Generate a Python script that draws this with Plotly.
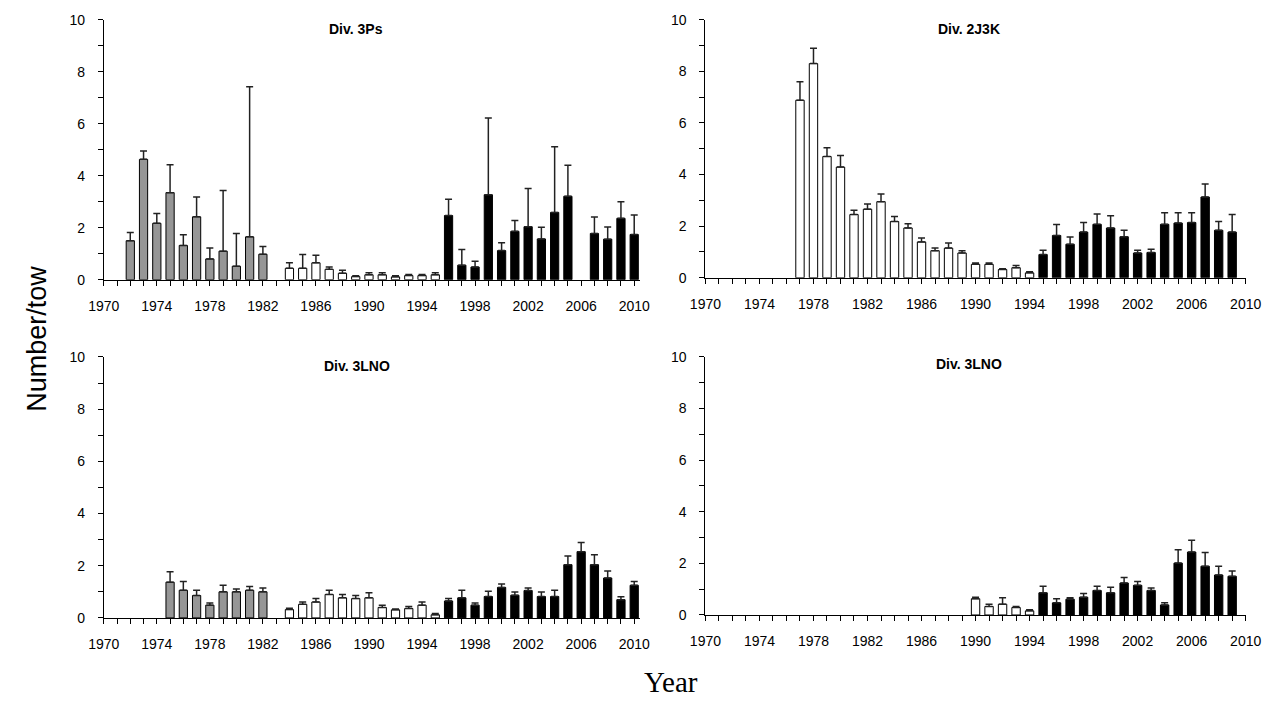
import plotly.graph_objects as go

# ---------------- data ----------------
# Div. 3Ps (top-left)
p1_gray_years = [1972, 1973, 1974, 1975, 1976, 1977, 1978, 1979, 1980, 1981, 1982]
p1_gray_mean = [1.50, 4.63, 2.17, 3.35, 1.32, 2.42, 0.80, 1.10, 0.52, 1.65, 0.98]
p1_gray_upper = [1.82, 4.95, 2.55, 4.42, 1.73, 3.18, 1.22, 3.43, 1.78, 7.42, 1.28]
p1_white_years = [1984, 1985, 1986, 1987, 1988, 1989, 1990, 1991, 1992, 1993, 1994, 1995]
p1_white_mean = [0.44, 0.44, 0.65, 0.40, 0.25, 0.12, 0.19, 0.19, 0.11, 0.16, 0.16, 0.19]
p1_white_upper = [0.65, 0.97, 0.94, 0.49, 0.36, 0.15, 0.27, 0.27, 0.15, 0.20, 0.20, 0.27]
p1_black_years = [1996, 1997, 1998, 1999, 2000, 2001, 2002, 2003, 2004, 2005, 2007, 2008, 2009, 2010]
p1_black_mean = [2.47, 0.56, 0.49, 3.27, 1.12, 1.86, 2.04, 1.57, 2.59, 3.21, 1.78, 1.56, 2.36, 1.74]
p1_black_upper = [3.10, 1.16, 0.71, 6.22, 1.42, 2.28, 3.51, 2.02, 5.11, 4.40, 2.41, 2.03, 3.00, 2.49]

# Div. 2J3K (top-right)
p2_white_years = [1977, 1978, 1979, 1980, 1981, 1982, 1983, 1984, 1985, 1986, 1987, 1988, 1989,
                  1990, 1991, 1992, 1993, 1994]
p2_white_mean = [6.88, 8.30, 4.70, 4.29, 2.45, 2.66, 2.95, 2.18, 1.93, 1.39, 1.05, 1.15, 0.96,
                 0.52, 0.52, 0.32, 0.39, 0.19]
p2_white_upper = [7.60, 8.89, 5.04, 4.74, 2.62, 2.86, 3.25, 2.37, 2.09, 1.54, 1.15, 1.35, 1.05,
                  0.57, 0.57, 0.35, 0.48, 0.23]
p2_black_years = [1995, 1996, 1997, 1998, 1999, 2000, 2001, 2002, 2003, 2004, 2005, 2006, 2007,
                  2008, 2009]
p2_black_mean = [0.90, 1.64, 1.30, 1.77, 2.07, 1.93, 1.59, 0.96, 0.98, 2.07, 2.12, 2.14, 3.13,
                 1.84, 1.77]
p2_black_upper = [1.07, 2.06, 1.58, 2.14, 2.47, 2.40, 1.84, 1.07, 1.11, 2.52, 2.52, 2.52, 3.63,
                  2.18, 2.45]

# Div. 3LNO (bottom-left)
p3_gray_years = [1975, 1976, 1977, 1978, 1979, 1980, 1981, 1982]
p3_gray_mean = [1.37, 1.06, 0.86, 0.49, 1.00, 1.00, 1.06, 1.00]
p3_gray_upper = [1.77, 1.40, 1.06, 0.57, 1.25, 1.11, 1.20, 1.15]
p3_white_years = [1984, 1985, 1986, 1987, 1988, 1989, 1990, 1991, 1992, 1993, 1994, 1995]
p3_white_mean = [0.32, 0.52, 0.61, 0.90, 0.77, 0.74, 0.77, 0.40, 0.31, 0.36, 0.49, 0.12]
p3_white_upper = [0.37, 0.61, 0.74, 1.06, 0.90, 0.86, 0.96, 0.49, 0.34, 0.44, 0.61, 0.17]
p3_black_years = [1996, 1997, 1998, 1999, 2000, 2001, 2002, 2003, 2004, 2005, 2006, 2007, 2008,
                  2009, 2010]
p3_black_mean = [0.65, 0.77, 0.49, 0.82, 1.17, 0.87, 1.05, 0.82, 0.82, 2.04, 2.54, 2.04, 1.53,
                 0.70, 1.25]
p3_black_upper = [0.74, 1.06, 0.57, 1.02, 1.30, 0.99, 1.15, 0.99, 1.06, 2.37, 2.89, 2.42, 1.80,
                  0.81, 1.40]

# Div. 3LNO (bottom-right)
p4_white_years = [1990, 1991, 1992, 1993, 1994]
p4_white_mean = [0.63, 0.33, 0.42, 0.29, 0.16]
p4_white_upper = [0.69, 0.42, 0.67, 0.33, 0.20]
p4_black_years = [1995, 1996, 1997, 1998, 1999, 2000, 2001, 2002, 2003, 2004, 2005, 2006, 2007,
                  2008, 2009]
p4_black_mean = [0.86, 0.47, 0.61, 0.69, 0.95, 0.86, 1.24, 1.15, 0.95, 0.39, 2.01, 2.44, 1.89,
                 1.55, 1.50]
p4_black_upper = [1.11, 0.63, 0.67, 0.83, 1.11, 1.07, 1.45, 1.30, 1.05, 0.47, 2.53, 2.90, 2.42,
                  1.89, 1.70]

panel_titles = ["Div. 3Ps", "Div. 2J3K", "Div. 3LNO", "Div. 3LNO"]
y_title = "Number/tow"
x_title = "Year"

# ---------------- figure ----------------
W, H = 1288, 709
FONT = "Liberation Sans, Arial, sans-serif"
GRAY, WHITE, BLACK = "#969696", "#ffffff", "#000000"

fig = go.Figure()

def add_bars(years, mean, upper, fill, xa, ya):
    fig.add_trace(go.Bar(
        x=years, y=mean, width=0.62,
        marker=dict(color=fill, line=dict(color="black", width=1)),
        error_y=dict(type="data", symmetric=False,
                     array=[u - m for u, m in zip(upper, mean)],
                     arrayminus=[0 for _ in mean],
                     color="#222222", thickness=1.5, width=3.5),
        xaxis=xa, yaxis=ya, showlegend=False, hoverinfo="x+y"))

add_bars(p1_gray_years, p1_gray_mean, p1_gray_upper, GRAY, "x", "y")
add_bars(p1_white_years, p1_white_mean, p1_white_upper, WHITE, "x", "y")
add_bars(p1_black_years, p1_black_mean, p1_black_upper, BLACK, "x", "y")
add_bars(p2_white_years, p2_white_mean, p2_white_upper, WHITE, "x2", "y2")
add_bars(p2_black_years, p2_black_mean, p2_black_upper, BLACK, "x2", "y2")
add_bars(p3_gray_years, p3_gray_mean, p3_gray_upper, GRAY, "x3", "y3")
add_bars(p3_white_years, p3_white_mean, p3_white_upper, WHITE, "x3", "y3")
add_bars(p3_black_years, p3_black_mean, p3_black_upper, BLACK, "x3", "y3")
add_bars(p4_white_years, p4_white_mean, p4_white_upper, WHITE, "x4", "y4")
add_bars(p4_black_years, p4_black_mean, p4_black_upper, BLACK, "x4", "y4")

def px_x(p):
    return p / W

def px_y(p):
    return (H - p) / H

tickfont = dict(family=FONT, size=14, color="black")

def xaxis(dom, rng, anchor):
    return dict(domain=dom, range=rng, anchor=anchor, showline=True, linecolor="black",
                linewidth=1, ticks="outside", ticklen=5, tickcolor="black", tickwidth=1,
                tick0=1970, dtick=4, tickfont=tickfont, showgrid=False, zeroline=False,
                ticklabelstandoff=8,
                minor=dict(dtick=1, tick0=1970, ticks="outside", ticklen=5,
                           tickcolor="black", tickwidth=1, showgrid=False))

def yaxis(dom, anchor):
    return dict(domain=dom, range=[0, 10], anchor=anchor, showline=True, linecolor="black",
                linewidth=1, ticks="outside", ticklen=5, tickcolor="black", tickwidth=1,
                tick0=0, dtick=2, tickfont=tickfont, showgrid=False, zeroline=False,
                ticklabelstandoff=10,
                minor=dict(dtick=1, tick0=0, ticks="outside", ticklen=5,
                           tickcolor="black", tickwidth=1, showgrid=False))

fig.update_layout(
    width=W, height=H, margin=dict(l=0, r=0, t=0, b=0),
    paper_bgcolor="white", plot_bgcolor="white", barmode="overlay",
    xaxis=xaxis([px_x(90), px_x(639.4)], [1970, 2010.4], "y"),
    yaxis=yaxis([px_y(278), px_y(12)], "x"),
    xaxis2=xaxis([px_x(707), px_x(1261)], [1970, 2010], "y2"),
    yaxis2=yaxis([px_y(276), px_y(12)], "x2"),
    xaxis3=xaxis([px_x(90), px_x(639.4)], [1970, 2010.4], "y3"),
    yaxis3=yaxis([px_y(624), px_y(357)], "x3"),
    xaxis4=xaxis([px_x(707), px_x(1261)], [1970, 2010], "y4"),
    yaxis4=yaxis([px_y(621), px_y(357)], "x4"),
)

title_pos = [(349, 21), (977, 21), (350, 366), (977, 364)]
for t, (cx, cy) in zip(panel_titles, title_pos):
    fig.add_annotation(text="<b>" + t + "</b>", x=px_x(cx), y=px_y(cy), xref="paper",
                       yref="paper", showarrow=False, xanchor="center", yanchor="middle",
                       font=dict(family=FONT, size=14, color="black"))

fig.add_annotation(text=y_title, x=px_x(22), y=px_y(338), xref="paper", yref="paper",
                   showarrow=False, textangle=-90, xanchor="center", yanchor="middle",
                   font=dict(family=FONT, size=27, color="black"))
fig.add_annotation(text=x_title, x=px_x(672), y=px_y(690), xref="paper", yref="paper",
                   showarrow=False, xanchor="center", yanchor="middle",
                   font=dict(family="Liberation Serif, Times New Roman, serif", size=29,
                             color="black"))

fig.write_html("out.html")
